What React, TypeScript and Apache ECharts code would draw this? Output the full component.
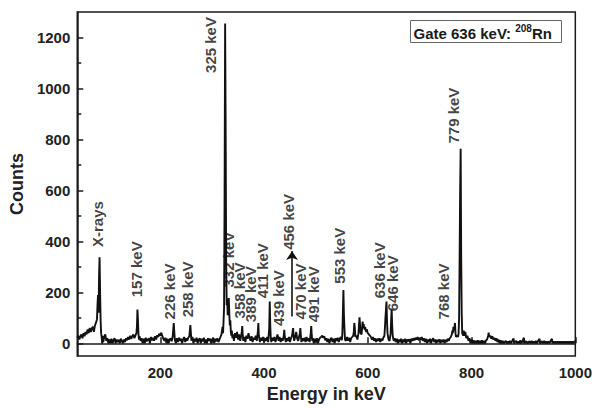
import React, { useEffect, useRef } from "react";
import * as echarts from "echarts";

// ---- spectrum data, [energy keV, counts] ----
const xrayRegion: [number, number][] = [
  [40,22],[42,30],[44,15],[46,28],[48,35],[50,20],[52,40],[54,28],[56,45],[58,35],[60,55],[62,40],[64,60],[66,45],[68,58],[70,65],[72,45],[74,70],[76,80],[78,95],[79,150],[80,190],[81,120],[82,260],[83,338],[84,200],[85,90],[86,40],[87,25],[88,0],[89,30],[90,5],[92,25],[94,35],[96,10],[98,20],[100,0],
];
const lowRegion: [number, number][] = [
  [102,15],[104,0],[106,18],[108,0],[110,12],[112,20],[114,0],[116,15],[118,5],[120,14],[122,0],[124,18],[126,10],[128,0],[130,15],[132,5],[134,20],[136,12],[138,25],[140,15],[142,30],[144,18],[146,28],[148,35],[150,20],[152,30],[154,40],[155,65],[156,133],[157,90],[158,35],[159,15],[160,28],[162,10],[164,20],[166,0],[168,18],[170,0],[172,22],[174,8],[176,15],[178,20],[180,0],[182,25],[184,12],[186,22],[188,10],[190,28],[192,15],[194,32],[196,25],[198,38],[200,30],[202,42],[204,28],[206,18],[208,10],[210,22],[212,0],[214,18],[216,0],[218,15],[220,20],[222,8],[224,28],[225,55],[226,80],[227,45],[228,15],[230,0],[232,20],[234,5],[236,22],[238,10],[240,18],[242,0],[244,15],[246,25],[248,5],[250,20],[252,10],[254,22],[256,28],[257,50],[258,72],[259,40],[260,10],[262,25],[264,0],[266,18],[268,8],[270,22],[272,0],[274,15],[276,20],[278,0],[280,18],[282,8],[284,22],[286,0],[288,15],[290,0],[292,20],[294,10],[296,18],[298,0],[300,15],[302,22],[304,0],[306,18],[308,8],[310,20],[312,5],[314,15],[316,25],[318,35],
];
const multiplet325: [number, number][] = [
  [319,50],[320,65],[321,40],[322,90],[323,140],[324,600],[325,1255],[326,860],[327,320],[328,150],[329,175],[330,110],[331,140],[332,178],[333,120],[334,70],[335,90],[336,45],[337,30],[338,50],[339,20],[340,35],
];
const midRegion: [number, number][] = [
  [342,10],[344,40],[346,22],[348,45],[350,15],[352,35],[354,10],[356,30],[357,45],[358,68],[359,30],[360,10],[362,25],[364,5],[366,30],[368,18],[370,40],[372,22],[374,10],[376,28],[378,5],[380,22],[382,15],[384,30],[386,10],[388,45],[389,80],[390,30],[392,5],[394,22],[396,10],[398,25],[400,5],[402,20],[404,10],[406,25],[408,5],[410,60],[411,164],[412,70],[413,20],[414,5],[416,22],[418,10],[420,25],[422,5],[424,20],[426,35],[428,10],[430,25],[432,5],[434,20],[436,10],[438,30],[439,53],[440,25],[442,5],[444,20],[446,10],[448,25],[450,5],[452,20],[454,30],[455,45],[456,60],[457,30],[458,10],[460,25],[462,45],[464,18],[466,10],[468,30],[469,40],[470,60],[471,30],[472,5],[474,20],[476,10],[478,22],[480,5],[482,25],[484,10],[486,20],[488,5],[490,40],[491,68],[492,30],[493,10],[494,20],[496,0],[498,18],[500,5],[502,20],[504,0],[506,15],[508,22],[510,25],[512,30],[514,22],[516,28],[518,12],[520,20],[522,5],[524,18],[526,0],[528,15],[530,22],[532,5],[534,18],[536,0],[538,20],[540,10],[542,22],[544,5],[546,18],[548,25],[550,12],
];
const region553to660: [number, number][] = [
  [551,40],[552,120],[553,209],[554,110],[555,60],[556,15],[558,10],[560,25],[562,10],[564,22],[566,5],[568,20],[570,25],[572,30],[573,45],[574,80],[575,60],[576,25],[578,30],[580,15],[582,40],[583,70],[584,102],[585,75],[586,40],[588,35],[589,60],[590,85],[591,70],[592,75],[593,60],[594,55],[595,65],[596,50],[597,45],[598,55],[600,40],[602,35],[604,30],[606,25],[608,15],[610,25],[612,10],[614,20],[616,5],[618,18],[620,10],[622,20],[624,5],[626,18],[628,10],[630,22],[632,30],[633,60],[634,100],[635,130],[636,164],[637,90],[638,40],[640,15],[642,10],[644,40],[645,90],[646,133],[647,70],[648,30],[650,10],[652,20],[654,5],[656,18],[658,0],[660,15],
];
const region660to760: [number, number][] = [
  [662,5],[664,18],[666,0],[668,15],[670,5],[672,18],[674,0],[676,15],[678,8],[680,16],[682,0],[684,18],[686,10],[688,20],[690,12],[692,22],[694,15],[696,25],[698,12],[700,22],[702,15],[704,25],[706,10],[708,20],[710,5],[712,18],[714,0],[716,15],[718,5],[720,18],[722,0],[724,14],[726,20],[728,5],[730,15],[732,0],[734,14],[736,5],[738,16],[740,0],[742,14],[744,5],[746,15],[748,0],[750,14],[752,5],[754,18],[756,10],[758,20],[760,25],
];
const multiplet779: [number, number][] = [
  [762,35],[763,50],[764,40],[765,65],[766,50],[767,60],[768,80],[769,40],[770,25],[772,30],[774,25],[775,40],[776,100],[777,340],[778,600],[779,763],[780,340],[781,120],[782,40],[784,30],[785,50],[786,30],[788,45],[789,30],[790,20],[792,30],[794,10],[796,20],[798,0],[800,15],
];
const highRegion: [number, number][] = [
  [802,0],[804,12],[806,0],[808,10],[810,0],[812,12],[814,0],[816,10],[818,0],[820,12],[822,0],[824,10],[826,0],[828,12],[830,15],[832,30],[833,42],[834,25],[836,30],[838,18],[840,28],[842,15],[844,22],[846,10],[848,20],[850,5],[852,15],[854,0],[856,12],[858,0],[860,10],[862,0],[864,6],[866,10],[868,0],[870,8],[872,0],[874,10],[876,0],[878,8],[880,15],[881,20],[882,0],[884,6],[886,10],[888,0],[890,8],[892,0],[894,12],[896,0],[898,8],[900,18],[901,22],[902,0],[904,5],[906,8],[908,0],[910,5],[912,8],[914,0],[916,10],[918,0],[920,8],[922,0],[924,10],[926,0],[928,8],[930,15],[931,18],[932,0],[934,5],[936,8],[938,0],[940,10],[942,0],[944,8],[946,0],[948,8],[950,0],[952,8],[954,15],[955,18],[956,0],[958,8],[960,0],[962,8],[964,0],[966,8],[968,0],[970,8],[972,0],[974,8],[976,0],[978,8],[980,0],[982,8],[984,0],[986,8],[988,0],[990,8],[992,0],[994,8],[996,0],[998,8],[1000,5],
];

// ---- peak annotations ----
const peakLabels = ["X-rays","157 keV","226 keV","258 keV","325 keV","332 keV","358 keV","389 keV","411 keV","439 keV","456 keV","470 keV","491 keV","553 keV","636 keV","646 keV","768 keV","779 keV"];
// where each label's text starts (bottom of rotated text), in data coords
const labelAnchorEnergy = [79,154,218,252,297,331,353,373,398,427,447,471,496,546,622,647,746,765];
const labelAnchorCounts = [378,181,94,102,1061,219,98,83,177,68,367,94,83,234,177,126,94,784];
const arrow456Energy = 454;
const arrow456From = 105;
const arrow456To = 362;

// ---- ticks ----
const xMajorTicks = [200,400,600,800,1000];
const xMinorTicks = [100,300,500,700,900];
const yMajorTicks = [0,200,400,600,800,1000,1200];
const yMinorTicks = [100,300,500,700,900,1100];

const FONT = "'Liberation Sans', Arial, Helvetica, sans-serif";
const INK = "#1a1a1a";

export default function App() {
  const ref = useRef<HTMLDivElement>(null);
  useEffect(() => {
    document.body.style.margin = "0";
    if (!ref.current) return;
    const chart = echarts.init(ref.current, undefined, { renderer: "svg" });
    const spectrum = [
      ...xrayRegion, ...lowRegion, ...multiplet325, ...midRegion,
      ...region553to660, ...region660to760, ...multiplet779, ...highRegion,
    ];
    const labelData = peakLabels.map((t, i) => [labelAnchorEnergy[i], labelAnchorCounts[i], t]);
    const tickLabel = {
      fontSize: 15, fontWeight: "bold", color: "#222", fontFamily: FONT,
      formatter: (v: number) => String(v),
    };
    chart.setOption({
      animation: false,
      backgroundColor: "#fff",
      grid: { left: 74, right: 19, top: 12, bottom: 40, show: true, borderColor: INK, borderWidth: 1.5, backgroundColor: "transparent" },
      xAxis: [
        {
          type: "value", min: 40, max: 1000, position: "bottom",
          axisLine: { show: true, lineStyle: { color: INK, width: 1.5 } },
          axisTick: { show: true, inside: true, length: 6, customValues: xMajorTicks, lineStyle: { color: INK, width: 1.5 } },
          axisLabel: { ...tickLabel, margin: 9, customValues: xMajorTicks },
          splitLine: { show: false },
          name: "Energy in keV", nameLocation: "middle", nameGap: 22,
          nameTextStyle: { fontSize: 18, fontWeight: "bold", color: "#222", fontFamily: FONT },
        },
        {
          type: "value", min: 40, max: 1000, position: "bottom",
          axisLine: { show: false },
          axisTick: { show: true, inside: true, length: 4, customValues: xMinorTicks, lineStyle: { color: INK, width: 1.5 } },
          axisLabel: { show: false },
          splitLine: { show: false },
        },
      ],
      yAxis: [
        {
          type: "value", min: -50, max: 1300, position: "left",
          axisLine: { show: true, lineStyle: { color: INK, width: 1.5 } },
          axisTick: { show: true, inside: true, length: 6, customValues: yMajorTicks, lineStyle: { color: INK, width: 1.5 } },
          axisLabel: { ...tickLabel, margin: 7, customValues: yMajorTicks },
          splitLine: { show: false },
          name: "Counts", nameLocation: "middle", nameGap: 46,
          nameTextStyle: { fontSize: 18, fontWeight: "bold", color: "#222", fontFamily: FONT },
        },
        {
          type: "value", min: -50, max: 1300, position: "left",
          axisLine: { show: false },
          axisTick: { show: true, inside: true, length: 4, customValues: yMinorTicks, lineStyle: { color: INK, width: 1.5 } },
          axisLabel: { show: false },
          splitLine: { show: false },
        },
      ],
      series: [
        {
          type: "line",
          data: spectrum,
          showSymbol: false,
          symbol: "none",
          lineStyle: { color: "#111", width: 1.9 },
          markLine: {
            silent: true,
            symbol: ["none", "arrow"],
            symbolSize: 9,
            label: { show: false },
            lineStyle: { color: "#111", width: 1.6, type: "solid" },
            data: [[{ coord: [arrow456Energy, arrow456From] }, { coord: [arrow456Energy, arrow456To] }]],
          },
        },
        {
          type: "scatter",
          data: labelData,
          symbolSize: 0,
          silent: true,
          label: {
            show: true,
            position: "inside",
            rotate: 90,
            align: "left",
            verticalAlign: "middle",
            formatter: (p: any) => p.data[2],
            fontSize: 15,
            fontWeight: "bold",
            color: "#111",
            fontFamily: FONT,
          },
        },
      ],
      graphic: [
        {
          type: "group",
          left: 410,
          top: 20,
          children: [
            { type: "rect", shape: { x: 0, y: 0, width: 151, height: 22 }, style: { fill: "#fff", stroke: "#666", lineWidth: 1 } },
            {
              type: "text",
              x: 3,
              y: 3,
              style: {
                text: "{a|Gate 636 keV: }{s|208}{a|Rn}",
                rich: {
                  a: { fontSize: 15, fontWeight: "bold", fill: "#1a1a1a", fontFamily: FONT, lineHeight: 17, verticalAlign: "bottom" },
                  s: { fontSize: 10, fontWeight: "bold", fill: "#1a1a1a", fontFamily: FONT, lineHeight: 17, verticalAlign: "top" },
                },
              },
            },
          ],
        },
      ],
    });
    return () => chart.dispose();
  }, []);
  return <div ref={ref} style={{ width: 595, height: 408 }} />;
}
